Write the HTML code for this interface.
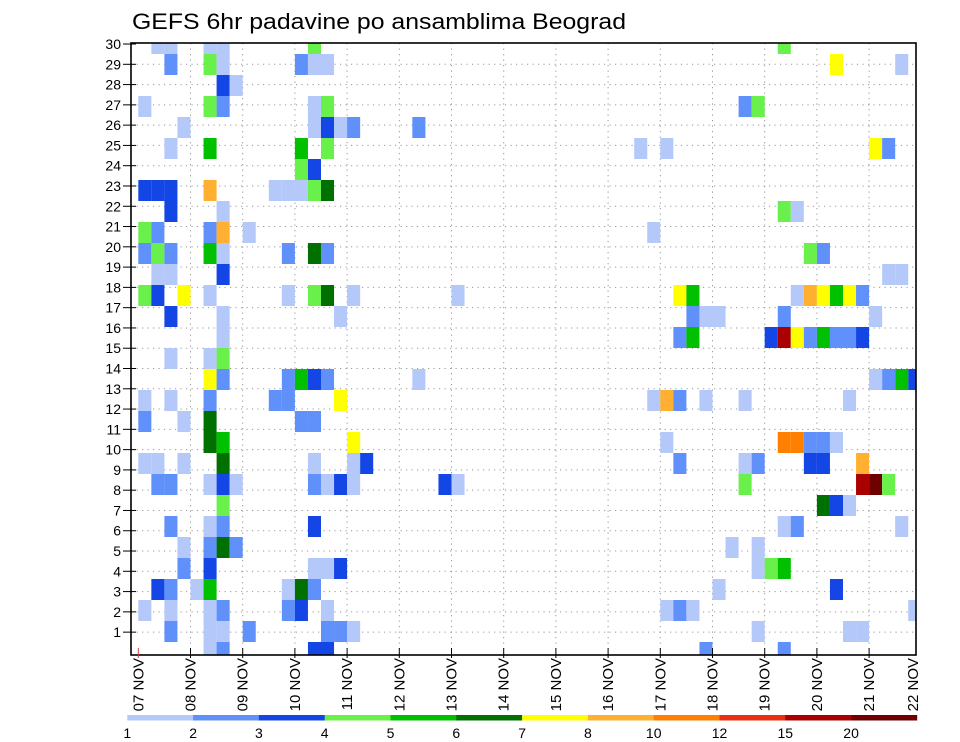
<!DOCTYPE html>
<html><head><meta charset="utf-8"><style>
html,body{margin:0;padding:0;background:#fff;}
svg{display:block;font-family:"Liberation Sans",sans-serif;}
</style></head><body>
<svg id="chart" width="960" height="742" viewBox="0 0 960 742" xmlns="http://www.w3.org/2000/svg">
<rect x="0" y="0" width="960" height="742" fill="#fff"/>
<text x="132" y="29" font-size="22" textLength="494" lengthAdjust="spacingAndGlyphs" fill="#000">GEFS 6hr padavine po ansamblima Beograd</text>
<defs><clipPath id="plotclip"><rect x="131" y="43" width="785" height="612"/></clipPath></defs>
<g id="grid"></g>
<g id="cells" clip-path="url(#plotclip)"></g>
<rect x="131" y="43" width="785" height="612" fill="none" stroke="#000" stroke-width="1.6"/>
<g id="yaxis"></g>
<g id="xaxis"></g>
<g id="legend"></g>
</svg>
<script>
// ---- data ----
const dayLabels = ["07","08","09","10","11","12","13","14","15","16","17","18","19","20","21","22"];
const memberTicks = [1,2,3,4,5,6,7,8,9,10,11,12,13,14,15,16,17,18,19,20,21,22,23,24,25,26,27,28,29,30];
const legendBreaks = [1,2,3,4,5,6,7,8,10,12,15,20,30];
const legendLabels = ["1","2","3","4","5","6","7","8","10","12","15","20"];
const legendColors = ["#b4c8fa","#6090fa","#1446e6","#6af04a","#00c000","#007000","#ffff00","#ffb030","#ff8000","#e83010","#aa0000","#6e0000"];
// [member, 6-hour step index, precip mm]
const cellValues = [
[30,1,1.5],[30,2,1.5],[30,5,1.5],[30,6,1.5],[30,13,4.5],[30,49,4.5],
[29,2,2.5],[29,5,4.5],[29,6,1.5],[29,12,2.5],[29,13,1.5],[29,14,1.5],[29,53,7.5],[29,58,1.5],
[28,6,3.5],[28,7,1.5],
[27,0,1.5],[27,5,4.5],[27,6,2.5],[27,13,1.5],[27,14,4.5],[27,46,2.5],[27,47,4.5],
[26,3,1.5],[26,13,1.5],[26,14,3.5],[26,15,1.5],[26,16,2.5],[26,21,2.5],
[25,2,1.5],[25,5,5.5],[25,12,5.5],[25,14,4.5],[25,38,1.5],[25,40,1.5],[25,56,7.5],[25,57,2.5],
[24,12,4.5],[24,13,3.5],
[23,0,3.5],[23,1,3.5],[23,2,3.5],[23,5,9],[23,10,1.5],[23,11,1.5],[23,12,1.5],[23,13,4.5],[23,14,6.5],
[22,2,3.5],[22,6,1.5],[22,49,4.5],[22,50,1.5],
[21,0,4.5],[21,1,2.5],[21,5,2.5],[21,6,9],[21,8,1.5],[21,39,1.5],
[20,0,2.5],[20,1,4.5],[20,2,2.5],[20,5,5.5],[20,6,1.5],[20,11,2.5],[20,13,6.5],[20,14,2.5],[20,51,4.5],[20,52,2.5],
[19,1,1.5],[19,2,1.5],[19,6,3.5],[19,57,1.5],[19,58,1.5],
[18,0,4.5],[18,1,3.5],[18,3,7.5],[18,5,1.5],[18,11,1.5],[18,13,4.5],[18,14,6.5],[18,16,1.5],[18,24,1.5],[18,41,7.5],[18,42,5.5],[18,50,1.5],[18,51,9],[18,52,7.5],[18,53,5.5],[18,54,7.5],[18,55,2.5],
[17,2,3.5],[17,6,1.5],[17,15,1.5],[17,42,2.5],[17,43,1.5],[17,44,1.5],[17,49,2.5],[17,56,1.5],
[16,6,1.5],[16,41,2.5],[16,42,5.5],[16,48,3.5],[16,49,17],[16,50,7.5],[16,51,2.5],[16,52,5.5],[16,53,2.5],[16,54,2.5],[16,55,3.5],
[15,2,1.5],[15,5,1.5],[15,6,4.5],
[14,5,7.5],[14,6,2.5],[14,11,2.5],[14,12,5.5],[14,13,3.5],[14,14,2.5],[14,21,1.5],[14,56,1.5],[14,57,2.5],[14,58,5.5],[14,59,3.5],
[13,0,1.5],[13,2,1.5],[13,5,2.5],[13,10,2.5],[13,11,2.5],[13,15,7.5],[13,39,1.5],[13,40,9],[13,41,2.5],[13,43,1.5],[13,46,1.5],[13,54,1.5],
[12,0,2.5],[12,3,1.5],[12,5,6.5],[12,12,2.5],[12,13,2.5],
[11,5,6.5],[11,6,5.5],[11,16,7.5],[11,40,1.5],[11,49,11],[11,50,11],[11,51,2.5],[11,52,2.5],[11,53,1.5],
[10,0,1.5],[10,1,1.5],[10,3,1.5],[10,6,6.5],[10,13,1.5],[10,16,1.5],[10,17,3.5],[10,41,2.5],[10,46,1.5],[10,47,2.5],[10,51,3.5],[10,52,3.5],[10,55,9],
[9,1,2.5],[9,2,2.5],[9,5,1.5],[9,6,3.5],[9,7,1.5],[9,13,2.5],[9,14,1.5],[9,15,3.5],[9,16,1.5],[9,23,3.5],[9,24,1.5],[9,46,4.5],[9,55,17],[9,56,22],[9,57,4.5],
[8,6,4.5],[8,52,6.5],[8,53,3.5],[8,54,1.5],
[7,2,2.5],[7,5,1.5],[7,6,2.5],[7,13,3.5],[7,49,1.5],[7,50,2.5],[7,58,1.5],
[6,3,1.5],[6,5,2.5],[6,6,6.5],[6,7,2.5],[6,45,1.5],[6,47,1.5],
[5,3,2.5],[5,5,3.5],[5,13,1.5],[5,14,1.5],[5,15,3.5],[5,47,1.5],[5,48,4.5],[5,49,5.5],
[4,1,3.5],[4,2,2.5],[4,4,1.5],[4,5,5.5],[4,11,1.5],[4,12,6.5],[4,13,2.5],[4,44,1.5],[4,53,3.5],
[3,0,1.5],[3,2,1.5],[3,5,1.5],[3,6,2.5],[3,11,2.5],[3,12,3.5],[3,14,1.5],[3,40,1.5],[3,41,2.5],[3,42,1.5],[3,59,1.5],
[2,2,2.5],[2,5,1.5],[2,6,1.5],[2,8,2.5],[2,14,2.5],[2,15,2.5],[2,16,1.5],[2,47,1.5],[2,54,1.5],[2,55,1.5],
[1,5,1.5],[1,6,2.5],[1,13,3.5],[1,14,3.5],[1,43,2.5],[1,49,2.5]
];

// ---- scales ----
const NS = "http://www.w3.org/2000/svg";
const STEP_W = 13.05;
function xStep(s){ return 138.3 + STEP_W * s; }          // left edge of 6-h cell
function xDay(d){ return 138.3 + 4 * STEP_W * d; }        // day boundary
function yCellTop(m){ return 663 - 21 * m; }              // member cell top
const CELL_H = 21;
function yTick(m){ return 64.3 + (29 - m) * 20.28; }      // member tick
function colorFor(v){
  for (let i = legendBreaks.length - 2; i >= 0; i--) if (v >= legendBreaks[i]) return legendColors[i];
  return null;
}
function mk(tag, attrs, parent){
  const e = document.createElementNS(NS, tag);
  for (const k in attrs) e.setAttribute(k, attrs[k]);
  parent.appendChild(e);
  return e;
}

// grid
const grid = document.getElementById('grid');
memberTicks.forEach(m => {
  if (m >= 30) return;
  const y = yTick(m);
  const l = mk('line', {x1:131, x2:916, y1:y, y2:y, stroke:'#999', 'stroke-width':1, 'stroke-dasharray':'1.2 4.3'}, grid);
  
  
});
for (let d = 1; d < 15; d++){
  const x = xDay(d);
  const l = mk('line', {x1:x, x2:x, y1:43, y2:655, stroke:'#999', 'stroke-width':1, 'stroke-dasharray':'1.2 4.3'}, grid);
  
  
}

// cells
const cg = document.getElementById('cells');
cellValues.forEach(cv => {
  const col = colorFor(cv[2]);
  if (!col) return;
  const r = mk('rect', {x:xStep(cv[1]), y:yCellTop(cv[0]), width:STEP_W, height:CELL_H, fill:col}, cg);
  
  
});

// y axis
const ya = document.getElementById('yaxis');
memberTicks.forEach(m => {
  const y = yTick(m);
  const t = mk('line', {x1:123, x2:136, y1:y, y2:y, stroke:'#000', 'stroke-width':1}, ya);
  
  
  const tx = mk('text', {x:121, y:y+5, 'font-size':14, 'text-anchor':'end', fill:'#000'}, ya);
  tx.textContent = String(m);
  
  
});

// x axis
const xa = document.getElementById('xaxis');
dayLabels.forEach((lab, d) => {
  let x = xDay(d);
  if (x <= 916){
    const t = mk('line', {x1:x, x2:x, y1:648, y2:658, stroke: d === 0 ? '#d04040' : '#000', 'stroke-width':1}, xa);
    
    
  }
  const lx = Math.min(x, 913) + 5;
  const tx = mk('text', {x:0, y:0, 'font-size':15, 'text-anchor':'end', fill:'#000', transform:'translate(' + lx + ',658) rotate(-90)'}, xa);
  tx.textContent = lab + '  NOV';
  
  
});

// legend
const lg = document.getElementById('legend');
const LX0 = 127.3, LW = 65.8;
legendColors.forEach((c, i) => {
  const r = mk('rect', {x:LX0 + LW*i, y:715, width:LW + 0.3, height:5.5, fill:c}, lg);
  
  
});
legendLabels.forEach((lab, i) => {
  const t = mk('text', {x:LX0 + LW*i, y:738, 'font-size':14, 'text-anchor':'middle', fill:'#000'}, lg);
  t.textContent = lab;
  
  
});
</script>
</body></html>
